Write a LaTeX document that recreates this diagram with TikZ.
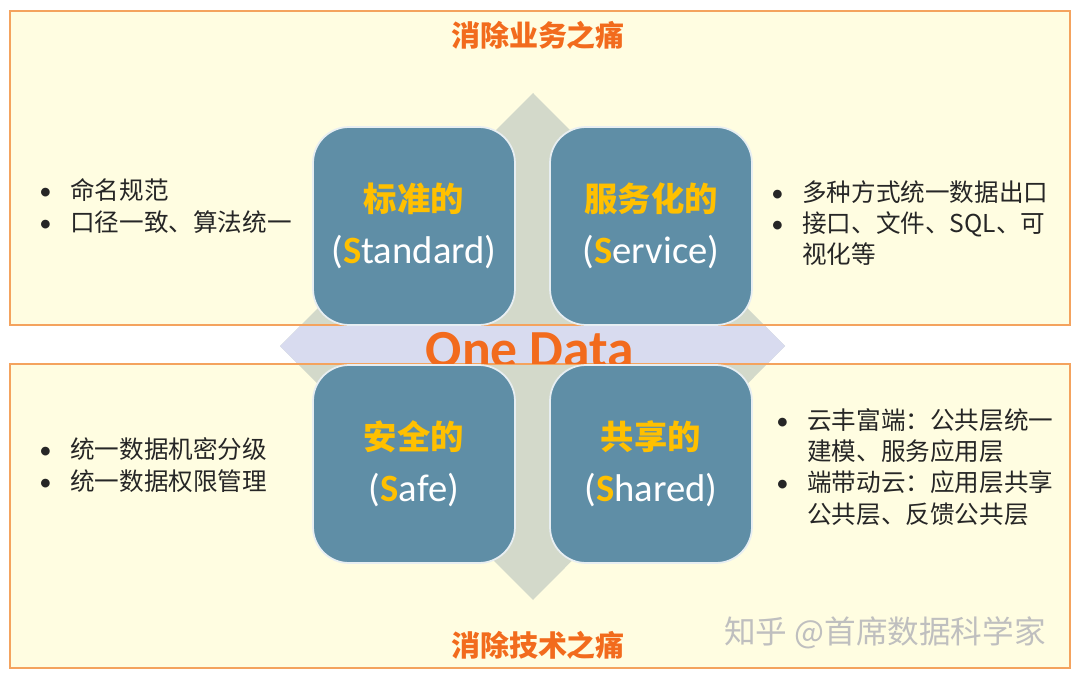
\documentclass[tikz,border=0pt]{standalone}
\usepackage{fontspec}
\setmainfont{Carlito}
\newfontfamily\cjk{Noto Sans CJK SC}
\definecolor{painborder}{HTML}{F4A35E}
\definecolor{painfill}{HTML}{FFFDE1}
\definecolor{painorange}{HTML}{F26B1D}
\definecolor{quadblue}{HTML}{5F8EA6}
\definecolor{quadgold}{HTML}{FFC000}
\definecolor{crossgreen}{HTML}{D3D9CA}
\definecolor{crossblue}{HTML}{D8DBEF}
\tikzset{
  painbox/.style={draw=painborder, line width=1.2pt, fill=painfill},
  paintitle/.style={text=painorange, font=\cjk\bfseries\fontsize{16.5}{20}\selectfont},
  quad/.style={draw=white!85!quadblue, line width=1pt, fill=quadblue, rounded corners=0.72cm,
    minimum width=4.04cm, minimum height=3.96cm, align=center, inner sep=0pt,
    font=\fontsize{22}{29.5}\selectfont, text=white},
  bullets/.style={anchor=west, align=left, inner sep=0pt, text=black!85,
    font=\cjk\fontsize{14}{17.8}\selectfont}
}
\newcommand{\quadname}[1]{{\cjk\bfseries\fontsize{19}{22}\selectfont\color{quadgold}#1}}
\newcommand{\gS}{{\bfseries\color{quadgold}S}}
\newcommand{\bul}{\makebox[17.6pt][l]{\rmfamily\textbullet}}
\begin{document}
\begin{tikzpicture}[x=0.02cm, y=-0.02cm]
  \useasboundingbox (0,0) rectangle (1080,679);
  % two pain panels
  \fill[painfill] (10,11) rectangle (1070,325);
  \fill[painfill] (10,364) rectangle (1070,668);
  % four-way cross behind the quadrants
  \fill[crossgreen] (533,93) -- (785,346) -- (533,600) -- (280,346) -- cycle;
  \begin{scope}
    \clip (0,325) rectangle (1080,364);
    \fill[crossblue] (533,93) -- (785,346) -- (533,600) -- (280,346) -- cycle;
  \end{scope}
  \draw[painbox, fill=none] (10,11) rectangle (1070,325);
  \draw[painbox, fill=none] (10,364) rectangle (1070,668);
  \node[paintitle] (bizpain) at (538,35) {消除业务之痛};
  \node[paintitle] (techpain) at (538,645) {消除技术之痛};
  % centre label, cut by the lower panel
  \begin{scope}
    \clip (0,320) rectangle (1080,364);
    \node[anchor=base, text=painorange, font=\bfseries\fontsize{30.5}{34}\selectfont] (onedata) at (530,367) {One Data};
  \end{scope}
  % quadrants
  \node[quad] (std) at (414,226) {\quadname{标准的}\\(\gS tandard)};
  \node[quad] (svc) at (651,226) {\quadname{服务化的}\\(\gS ervice)};
  \node[quad] (safe) at (414,464) {\quadname{安全的}\\(\gS afe)};
  \node[quad] (shr) at (651,464) {\quadname{共享的}\\(\gS hared)};
  % bullet texts
  \node[bullets] (stdtxt) at (39,206) {\bul 命名规范\\ \bul 口径一致、算法统一};
  \node[bullets] (svctxt) at (771,223) {\bul 多种方式统一数据出口\\ \bul 接口、文件、SQL、可\\ \hspace*{17.6pt}视化等};
  \node[bullets] (safetxt) at (39,465) {\bul 统一数据机密分级\\ \bul 统一数据权限管理};
  \node[bullets] (shrtxt) at (776,467) {\bul 云丰富端：公共层统一\\ \hspace*{17.6pt}建模、服务应用层\\ \bul 端带动云：应用层共享\\ \hspace*{17.6pt}公共层、反馈公共层};
  % watermark
  \node[anchor=east, text=black!25, font=\cjk\fontsize{18}{22}\selectfont] (mark) at (1052,633) {知乎 @首席数据科学家};
\end{tikzpicture}
\end{document}
